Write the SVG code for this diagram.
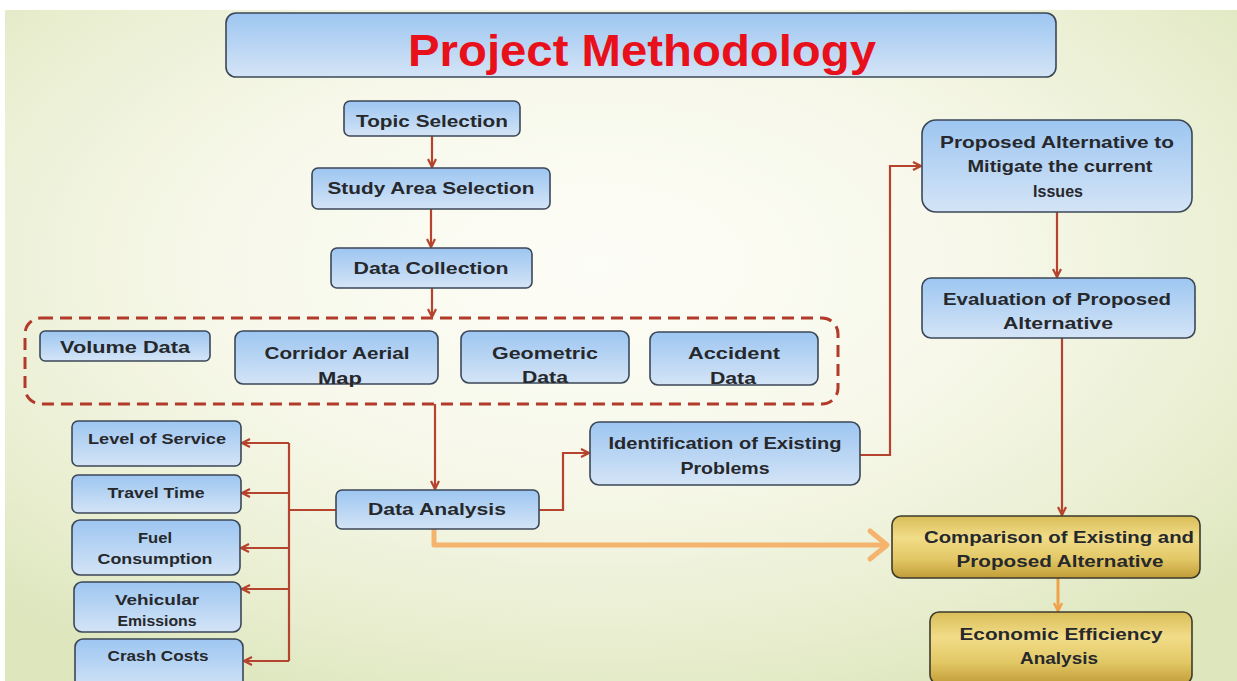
<svg xmlns="http://www.w3.org/2000/svg" width="1237" height="681" viewBox="0 0 1237 681">
  <defs>
    <radialGradient id="bg" cx="48%" cy="38%" r="70%" fx="48%" fy="38%">
      <stop offset="0" stop-color="#fdfdf7"/>
      <stop offset="0.45" stop-color="#f7f8ea"/>
      <stop offset="0.8" stop-color="#e9eed0"/>
      <stop offset="1" stop-color="#dde6bd"/>
    </radialGradient>
    <linearGradient id="blue" x1="0" y1="0" x2="0" y2="1">
      <stop offset="0" stop-color="#9dc6f1"/>
      <stop offset="1" stop-color="#d4e4f6"/>
    </linearGradient>
    <linearGradient id="gold" x1="0" y1="0" x2="0" y2="1">
      <stop offset="0" stop-color="#d9bd58"/>
      <stop offset="0.35" stop-color="#f1dc88"/>
      <stop offset="0.7" stop-color="#e2c765"/>
      <stop offset="1" stop-color="#c19d38"/>
    </linearGradient>
    <marker id="arr" markerUnits="userSpaceOnUse" markerWidth="12" markerHeight="12" refX="9" refY="5" orient="auto">
      <path d="M1,1 L9,5 L1,9" fill="none" stroke="#b5432d" stroke-width="2.2"/>
    </marker>
    <marker id="arrO" markerUnits="userSpaceOnUse" markerWidth="12" markerHeight="12" refX="9" refY="5" orient="auto">
      <path d="M1,1 L9,5 L1,9" fill="none" stroke="#f0a24a" stroke-width="2.4"/>
    </marker>
  </defs>
  <style>
    .node { fill: url(#blue); stroke: #3b4757; stroke-width: 1.6; }
    .gold { fill: url(#gold); stroke: #3d3a2c; stroke-width: 1.6; }
    .t { font-family: "Liberation Sans", Arial, sans-serif; font-weight: bold; font-size: 17px; fill: #26282c; text-anchor: middle; }
    .s { font-size: 15px; }
    .title { font-family: "Liberation Sans", Arial, sans-serif; font-weight: bold; font-size: 44px; fill: #e8101a; text-anchor: middle; }
    .ln { fill: none; stroke: #b5432d; stroke-width: 2.2; }
    .or { fill: none; stroke: #f5b46e; stroke-width: 5; stroke-linejoin: round; }
  </style>

  <!-- page background -->
  <rect x="0" y="0" width="1237" height="681" fill="#ffffff"/>
  <rect x="5" y="10" width="1232" height="671" fill="url(#bg)"/>

  <!-- heading -->
  <g id="title">
    <rect x="226" y="13" width="830" height="64" rx="10" class="node"/>
    <text x="642" y="66" class="title" textLength="468" lengthAdjust="spacingAndGlyphs">Project Methodology</text>
  </g>

  <!-- data group frame -->
  <g id="data-group">
    <rect x="25" y="318" width="813" height="86" rx="16" fill="none" stroke="#b23a2a" stroke-width="3" stroke-dasharray="12 7"/>
  </g>

  <!-- connectors -->
  <g id="connectors">
    <path class="ln" d="M432,136 V167" marker-end="url(#arr)"/>
    <path class="ln" d="M431,209 V247" marker-end="url(#arr)"/>
    <path class="ln" d="M432,288 V317" marker-end="url(#arr)"/>
    <path class="ln" d="M435,404 V489" marker-end="url(#arr)"/>
    <!-- outputs of data analysis -->
    <path class="ln" d="M336,510 H289"/>
    <path class="ln" d="M289,443 V661" stroke-width="2.6"/>
    <path class="ln" d="M289,443 H242" marker-end="url(#arr)"/>
    <path class="ln" d="M289,493 H242" marker-end="url(#arr)"/>
    <path class="ln" d="M289,548 H241" marker-end="url(#arr)"/>
    <path class="ln" d="M289,589 H242" marker-end="url(#arr)"/>
    <path class="ln" d="M289,661 H244" marker-end="url(#arr)"/>
    <!-- problems and alternatives -->
    <path class="ln" d="M539,510 H563 V453 H589" marker-end="url(#arr)"/>
    <path class="ln" d="M860,455 H890 V166 H921" marker-end="url(#arr)"/>
    <path class="ln" d="M1057,212 V277" marker-end="url(#arr)"/>
    <path class="ln" d="M1062,338 V515" marker-end="url(#arr)"/>
    <!-- comparison path -->
    <path class="or" d="M434,529 V545 H886"/>
    <path class="or" d="M870,531 L887,545 L870,559" stroke-linecap="round"/>
    <path d="M1058,578 V611" fill="none" stroke="#f0a24a" stroke-width="3" marker-end="url(#arrO)"/>
  </g>

  <g id="topic-selection">
    <rect x="344" y="101" width="176" height="35" rx="6" class="node"/>
    <text x="432" y="127" class="t" textLength="152" lengthAdjust="spacingAndGlyphs">Topic Selection</text>
  </g>
  <g id="study-area-selection">
    <rect x="312" y="168" width="238" height="41" rx="6" class="node"/>
    <text x="431" y="194" class="t" textLength="207" lengthAdjust="spacingAndGlyphs">Study Area Selection</text>
  </g>
  <g id="data-collection">
    <rect x="331" y="248" width="201" height="40" rx="6" class="node"/>
    <text x="431" y="274" class="t" textLength="155" lengthAdjust="spacingAndGlyphs">Data Collection</text>
  </g>

  <g id="volume-data">
    <rect x="40" y="331" width="170" height="30" rx="5" class="node"/>
    <text x="125" y="353" class="t" textLength="130" lengthAdjust="spacingAndGlyphs">Volume Data</text>
  </g>
  <g id="corridor-aerial-map">
    <rect x="235" y="331" width="203" height="53" rx="8" class="node"/>
    <text x="337" y="359" class="t" textLength="145" lengthAdjust="spacingAndGlyphs">Corridor Aerial</text>
    <text x="340" y="384" class="t" textLength="44" lengthAdjust="spacingAndGlyphs">Map</text>
  </g>
  <g id="geometric-data">
    <rect x="461" y="331" width="168" height="52" rx="8" class="node"/>
    <text x="545" y="359" class="t" textLength="106" lengthAdjust="spacingAndGlyphs">Geometric</text>
    <text x="545" y="383" class="t" textLength="46" lengthAdjust="spacingAndGlyphs">Data</text>
  </g>
  <g id="accident-data">
    <rect x="650" y="332" width="168" height="53" rx="8" class="node"/>
    <text x="734" y="359" class="t" textLength="92" lengthAdjust="spacingAndGlyphs">Accident</text>
    <text x="733" y="384" class="t" textLength="46" lengthAdjust="spacingAndGlyphs">Data</text>
  </g>

  <g id="level-of-service">
    <rect x="72" y="421" width="169" height="45" rx="6" class="node"/>
    <text x="157" y="444" class="t s" textLength="138" lengthAdjust="spacingAndGlyphs">Level of Service</text>
  </g>
  <g id="travel-time">
    <rect x="72" y="475" width="169" height="38" rx="6" class="node"/>
    <text x="156" y="498" class="t s" textLength="97" lengthAdjust="spacingAndGlyphs">Travel Time</text>
  </g>
  <g id="fuel-consumption">
    <rect x="72" y="520" width="168" height="55" rx="8" class="node"/>
    <text x="155" y="543" class="t s" textLength="34" lengthAdjust="spacingAndGlyphs">Fuel</text>
    <text x="155" y="564" class="t s" textLength="115" lengthAdjust="spacingAndGlyphs">Consumption</text>
  </g>
  <g id="vehicular-emissions">
    <rect x="74" y="582" width="167" height="50" rx="8" class="node"/>
    <text x="157" y="605" class="t s" textLength="84" lengthAdjust="spacingAndGlyphs">Vehicular</text>
    <text x="157" y="626" class="t s" textLength="79" lengthAdjust="spacingAndGlyphs">Emissions</text>
  </g>
  <g id="crash-costs">
    <rect x="75" y="639" width="168" height="52" rx="8" class="node"/>
    <text x="158" y="661" class="t s" textLength="101" lengthAdjust="spacingAndGlyphs">Crash Costs</text>
  </g>

  <g id="data-analysis">
    <rect x="336" y="490" width="203" height="39" rx="6" class="node"/>
    <text x="437" y="515" class="t" textLength="138" lengthAdjust="spacingAndGlyphs">Data Analysis</text>
  </g>
  <g id="identification-of-existing-problems">
    <rect x="590" y="422" width="270" height="63" rx="9" class="node"/>
    <text x="725" y="449" class="t" textLength="233" lengthAdjust="spacingAndGlyphs">Identification of Existing</text>
    <text x="725" y="474" class="t" textLength="89" lengthAdjust="spacingAndGlyphs">Problems</text>
  </g>
  <g id="proposed-alternative">
    <rect x="922" y="120" width="270" height="92" rx="14" class="node"/>
    <text x="1057" y="148" class="t" textLength="234" lengthAdjust="spacingAndGlyphs">Proposed Alternative to</text>
    <text x="1060" y="172" class="t" textLength="185" lengthAdjust="spacingAndGlyphs">Mitigate the current</text>
    <text x="1058" y="197" class="t" textLength="50" lengthAdjust="spacingAndGlyphs">Issues</text>
  </g>
  <g id="evaluation-of-proposed-alternative">
    <rect x="922" y="278" width="273" height="60" rx="9" class="node"/>
    <text x="1057" y="305" class="t" textLength="228" lengthAdjust="spacingAndGlyphs">Evaluation of Proposed</text>
    <text x="1058" y="329" class="t" textLength="110" lengthAdjust="spacingAndGlyphs">Alternative</text>
  </g>
  <g id="comparison">
    <rect x="892" y="516" width="308" height="62" rx="9" class="gold"/>
    <text x="1059" y="543" class="t" textLength="270" lengthAdjust="spacingAndGlyphs">Comparison of Existing and</text>
    <text x="1060" y="567" class="t" textLength="207" lengthAdjust="spacingAndGlyphs">Proposed Alternative</text>
  </g>
  <g id="economic-efficiency-analysis">
    <rect x="930" y="612" width="262" height="72" rx="9" class="gold"/>
    <text x="1061" y="640" class="t" textLength="203" lengthAdjust="spacingAndGlyphs">Economic Efficiency</text>
    <text x="1059" y="664" class="t" textLength="78" lengthAdjust="spacingAndGlyphs">Analysis</text>
  </g>
</svg>
